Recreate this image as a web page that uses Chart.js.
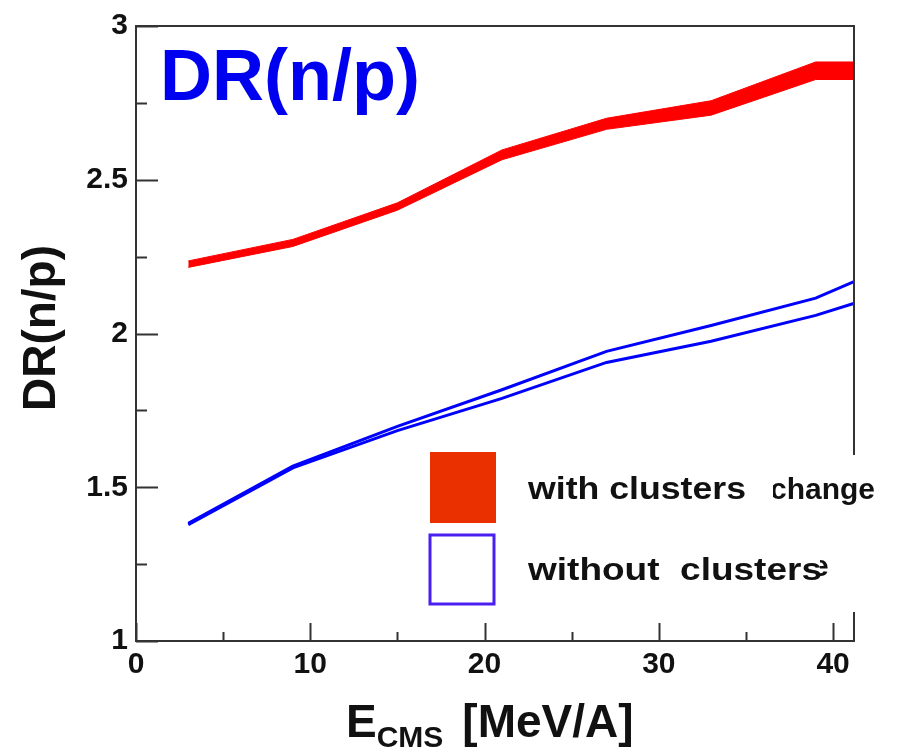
<!DOCTYPE html>
<html>
<head>
<meta charset="utf-8">
<title>DR(n/p)</title>
<script src="https://cdn.jsdelivr.net/npm/chart.js@4/dist/chart.umd.min.js"></script>
<style>
  html, body { margin: 0; padding: 0; background: #fff; }
  canvas { display: block; }
</style>
</head>
<body>
<canvas id="chart" width="899" height="750"></canvas>
<script>
// beam energies (MeV/A) and double ratio n/p bands
const energies   = [3, 9, 15, 21, 27, 33, 39, 45];
const withHigh   = [2.236, 2.306, 2.425, 2.597, 2.700, 2.757, 2.883, 2.883];
const withLow    = [2.215, 2.283, 2.401, 2.565, 2.664, 2.710, 2.826, 2.826];
const withoutHigh = [1.383, 1.569, 1.698, 1.817, 1.942, 2.026, 2.115, 2.262];
const withoutLow  = [1.378, 1.563, 1.684, 1.789, 1.906, 1.975, 2.059, 2.165];

const xTicks = [0, 10, 20, 30, 40];
const yTicks = [1, 1.5, 2, 2.5, 3];

const FONT = "'Liberation Sans', Arial, Helvetica, sans-serif";
const RED = 'rgb(255,0,0)';
const BLUE = 'rgb(0,0,255)';

const pts = arr => arr.map((v, i) => ({x: energies[i], y: v}));

// frame, inward tick marks, titles and the legend box
const decor = {
  id: 'decor',
  afterDraw(chart) {
    const {ctx, chartArea: a, scales: {x, y}} = chart;
    ctx.save();
    ctx.strokeStyle = '#333';
    ctx.lineWidth = 2;
    ctx.beginPath();
    ctx.moveTo(a.left, a.top); ctx.lineTo(a.right, a.top); ctx.lineTo(a.right, a.bottom);
    ctx.stroke();

    // ticks: majors at labels, minors half way
    ctx.beginPath();
    for (let v = 0; v <= 40; v += 5) {
      const px = Math.round(x.getPixelForValue(v)) + 0.5;
      const len = v % 10 === 0 ? 18 : 9;
      ctx.moveTo(px, a.bottom); ctx.lineTo(px, a.bottom - len);
    }
    for (let v = 1; v <= 3.001; v += 0.25) {
      const py = Math.round(y.getPixelForValue(v)) + 0.5;
      const len = Math.abs(v * 2 - Math.round(v * 2)) < 1e-6 ? 22 : 11;
      ctx.moveTo(a.left, py); ctx.lineTo(a.left + len, py);
    }
    ctx.stroke();

    // big blue heading
    ctx.fillStyle = '#0000f0';
    ctx.font = `bold 72px ${FONT}`;
    ctx.textAlign = 'left';
    ctx.textBaseline = 'alphabetic';
    ctx.fillText('DR(n/p)', 160, 100);

    // y title
    ctx.fillStyle = '#111';
    ctx.save();
    ctx.translate(55, 328);
    ctx.rotate(-Math.PI / 2);
    ctx.font = `bold 46px ${FONT}`;
    ctx.textAlign = 'center';
    ctx.fillText('DR(n/p)', 0, 0);
    ctx.restore();

    // x title with subscript
    ctx.font = `bold 46px ${FONT}`;
    ctx.fillText('E', 346, 737);
    let cx = 346 + ctx.measureText('E').width;
    ctx.font = `bold 30px ${FONT}`;
    ctx.fillText('CMS', cx, 747);
    cx += ctx.measureText('CMS').width + 19;
    ctx.font = `bold 46px ${FONT}`;
    ctx.fillText('[MeV/A]', cx, 737);

    // legend
    ctx.fillStyle = '#fff';
    ctx.fillRect(424, 455, 475, 157);
    ctx.fillStyle = 'rgb(235,48,0)';
    ctx.fillRect(430, 452, 66, 71);
    ctx.strokeStyle = '#4a1ef0';
    ctx.lineWidth = 3;
    ctx.strokeRect(430, 535, 64, 69);

    ctx.fillStyle = '#111';
    const stretched = (txt, px, py, size, w) => {
      ctx.font = `bold ${size}px ${FONT}`;
      const sx = w / ctx.measureText(txt).width;
      ctx.save();
      ctx.translate(px, py);
      ctx.scale(sx, 1);
      ctx.fillText(txt, 0, 0);
      ctx.restore();
    };
    stretched('with clusters', 528, 499, 32, 218);
    stretched('without  clusters', 528, 580, 32, 294);

    ctx.font = `bold 30px ${FONT}`;
    ctx.save();
    ctx.beginPath();
    ctx.rect(773, 440, 126, 80);
    ctx.clip();
    ctx.fillText('change', 770, 499);
    ctx.restore();
    ctx.save();
    ctx.beginPath();
    ctx.rect(820, 540, 20, 50);
    ctx.clip();
    ctx.fillText('e', 812, 576);
    ctx.restore();

    ctx.restore();
  }
};

new Chart(document.getElementById('chart'), {
  type: 'line',
  data: {
    datasets: [
      {label: 'with clusters', data: pts(withHigh), borderColor: RED, borderWidth: 1,
       pointRadius: 0, fill: false, tension: 0},
      {label: 'with clusters low', data: pts(withLow), borderColor: RED, borderWidth: 1,
       backgroundColor: RED, pointRadius: 0, fill: '-1', tension: 0},
      {label: 'without clusters', data: pts(withoutHigh), borderColor: BLUE, borderWidth: 3,
       pointRadius: 0, fill: false, tension: 0},
      {label: 'without clusters low', data: pts(withoutLow), borderColor: BLUE, borderWidth: 3,
       pointRadius: 0, fill: false, tension: 0}
    ]
  },
  options: {
    responsive: false,
    animation: false,
    devicePixelRatio: 1,
    layout: {padding: {top: 22, right: 45, left: 0, bottom: 0}},
    plugins: {legend: {display: false}, tooltip: {enabled: false}},
    scales: {
      x: {
        type: 'linear', min: 0, max: 41.2,
        afterFit: s => { s.height = 109; },
        afterBuildTicks: s => { s.ticks = xTicks.map(v => ({value: v})); },
        grid: {display: false, drawTicks: false},
        border: {display: true, color: '#333', width: 2},
        ticks: {color: '#111', padding: 6, font: {family: FONT, size: 30, weight: 'bold'},
                maxRotation: 0, callback: v => String(v)}
      },
      y: {
        type: 'linear', min: 1, max: 3,
        afterFit: s => { s.width = 136; },
        afterBuildTicks: s => { s.ticks = yTicks.map(v => ({value: v})); },
        grid: {display: false, drawTicks: false},
        border: {display: true, color: '#333', width: 2},
        ticks: {color: '#111', padding: 8, font: {family: FONT, size: 30, weight: 'bold'},
                callback: v => String(v)}
      }
    }
  },
  plugins: [decor]
});
</script>
</body>
</html>
